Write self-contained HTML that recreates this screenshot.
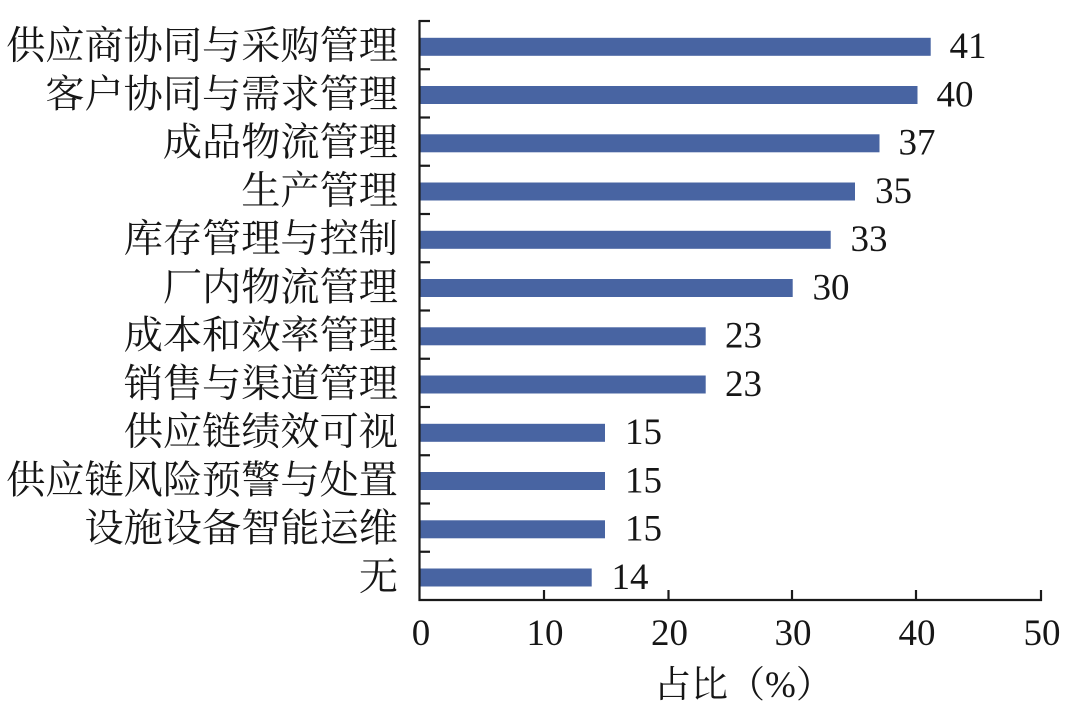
<!DOCTYPE html>
<html>
<head>
<meta charset="utf-8">
<style>
  html, body { margin: 0; padding: 0; background: #ffffff; }
  body { width: 1080px; height: 704px; overflow: hidden; }
  svg { display: block; }
  .cat { font-family: "Liberation Serif", "Noto Serif CJK SC", serif; font-size: 39.2px; fill: #161616; }
  .num { font-family: "Liberation Serif", serif; font-size: 37px; fill: #161616; }
  .ttl { font-family: "Liberation Serif", "Noto Serif CJK SC", serif; font-size: 37px; fill: #161616; }
</style>
</head>
<body>
<svg width="1080" height="704" viewBox="0 0 1080 704" xmlns="http://www.w3.org/2000/svg">
  <!-- bars -->
  <g fill="#4864a2">
    <rect x="420" y="37.8" width="510.7" height="18"/>
    <rect x="420" y="86.0" width="497.5" height="18"/>
    <rect x="420" y="134.3" width="459.5" height="18"/>
    <rect x="420" y="182.5" width="435" height="18"/>
    <rect x="420" y="230.8" width="410.7" height="18"/>
    <rect x="420" y="279.0" width="372.7" height="18"/>
    <rect x="420" y="327.3" width="285.7" height="18"/>
    <rect x="420" y="375.5" width="285.7" height="18"/>
    <rect x="420" y="423.8" width="185" height="18"/>
    <rect x="420" y="472.0" width="185" height="18"/>
    <rect x="420" y="520.3" width="185" height="18"/>
    <rect x="420" y="568.5" width="171.7" height="18"/>
  </g>

  <!-- axes -->
  <g stroke="#1a1a1a" stroke-width="2.2" fill="none">
    <line x1="419.5" y1="20" x2="419.5" y2="601"/>
    <line x1="418.5" y1="600" x2="1042" y2="600"/>
    <!-- y ticks -->
    <line x1="419" y1="21" x2="430" y2="21"/>
    <line x1="419" y1="69.25" x2="430" y2="69.25"/>
    <line x1="419" y1="117.5" x2="430" y2="117.5"/>
    <line x1="419" y1="165.75" x2="430" y2="165.75"/>
    <line x1="419" y1="214" x2="430" y2="214"/>
    <line x1="419" y1="262.25" x2="430" y2="262.25"/>
    <line x1="419" y1="310.5" x2="430" y2="310.5"/>
    <line x1="419" y1="358.75" x2="430" y2="358.75"/>
    <line x1="419" y1="407" x2="430" y2="407"/>
    <line x1="419" y1="455.25" x2="430" y2="455.25"/>
    <line x1="419" y1="503.5" x2="430" y2="503.5"/>
    <line x1="419" y1="551.75" x2="430" y2="551.75"/>
    <!-- x ticks -->
    <line x1="544" y1="600" x2="544" y2="590"/>
    <line x1="668.5" y1="600" x2="668.5" y2="590"/>
    <line x1="792" y1="600" x2="792" y2="590"/>
    <line x1="916" y1="600" x2="916" y2="590"/>
    <line x1="1041" y1="601" x2="1041" y2="590"/>
  </g>

  <!-- category labels -->
  <g class="cat" text-anchor="end">
    <text x="398" y="59">供应商协同与采购管理</text>
    <text x="398" y="107.3">客户协同与需求管理</text>
    <text x="398" y="155.5">成品物流管理</text>
    <text x="398" y="203.8">生产管理</text>
    <text x="398" y="252">库存管理与控制</text>
    <text x="398" y="300.3">厂内物流管理</text>
    <text x="398" y="348.5">成本和效率管理</text>
    <text x="398" y="396.8">销售与渠道管理</text>
    <text x="398" y="445">供应链绩效可视</text>
    <text x="398" y="493.3">供应链风险预警与处置</text>
    <text x="398" y="541.5">设施设备智能运维</text>
    <text x="398" y="589.8">无</text>
  </g>

  <!-- value labels -->
  <g class="num">
    <text x="949.5" y="58">41</text>
    <text x="936.5" y="106.3">40</text>
    <text x="898.5" y="154.5">37</text>
    <text x="875" y="202.8">35</text>
    <text x="850.5" y="251">33</text>
    <text x="812.5" y="299.3">30</text>
    <text x="725" y="347.5">23</text>
    <text x="725" y="395.8">23</text>
    <text x="625" y="444">15</text>
    <text x="625" y="492.3">15</text>
    <text x="625" y="540.5">15</text>
    <text x="611.5" y="588.8">14</text>
  </g>

  <!-- x tick labels -->
  <g class="num" text-anchor="middle">
    <text x="421" y="645">0</text>
    <text x="545" y="645">10</text>
    <text x="669.5" y="645">20</text>
    <text x="793" y="645">30</text>
    <text x="917" y="645">40</text>
    <text x="1042" y="645">50</text>
  </g>

  <!-- axis title -->
  <text class="ttl" x="654" y="697">占比（%）</text>
</svg>
</body>
</html>
